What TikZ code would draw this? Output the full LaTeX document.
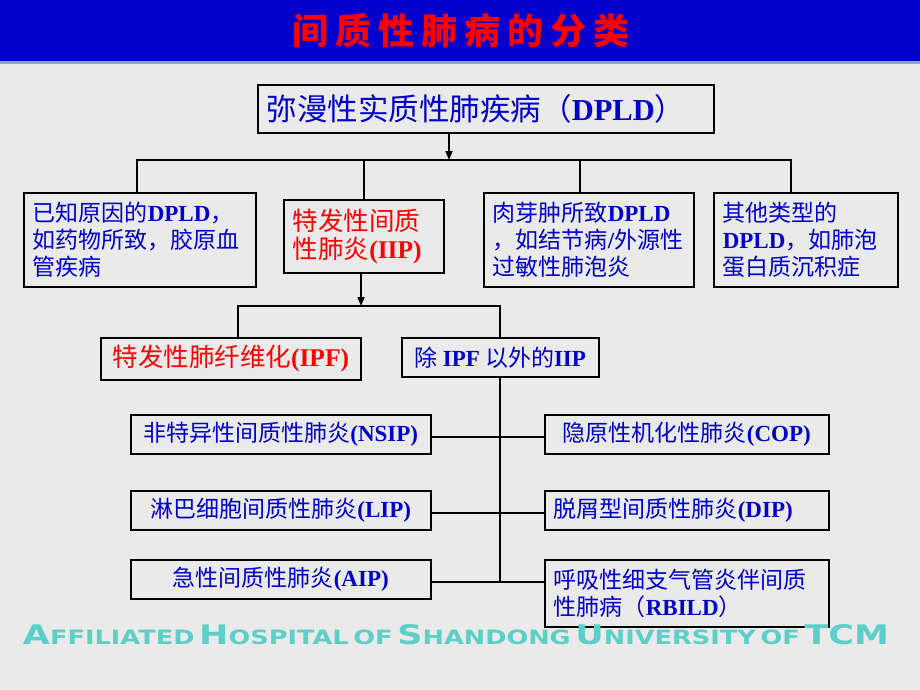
\documentclass[tikz,border=0pt]{standalone}
\usepackage{fontspec}
\setmainfont{Noto Sans CJK SC}
\newfontfamily\tnr{Liberation Serif}
\newfontfamily\footfont{DejaVu Sans}
\usepackage{tikz}
\usetikzlibrary{positioning, arrows.meta}

\definecolor{bgpaper}{RGB}{234,234,234}
\definecolor{titleblue}{RGB}{0,0,204}
\definecolor{rulegray}{RGB}{150,168,178}
\definecolor{txtblue}{RGB}{0,0,204}
\definecolor{txtred}{RGB}{255,0,0}
\definecolor{footcyan}{RGB}{92,208,200}

\newcommand{\en}[1]{{\tnr\bfseries #1}}
\newcommand{\capword}[2]{{\fontsize{26}{26}\selectfont #1}{\fontsize{19}{19}\selectfont #2}}
\newcommand{\footline}{\footfont\bfseries
  \capword{A}{FFILIATED} \capword{H}{OSPITAL} \capword{}{OF} \capword{S}{HANDONG}
  \capword{U}{NIVERSITY} \capword{}{OF} \capword{TCM}{}}

\tikzset{
  box/.style={draw=black, line width=1.6pt, inner xsep=9pt, inner ysep=0pt, anchor=north west},
  bluebox/.style={box, text=txtblue, font=\fontsize{23}{27}\selectfont},
  redbox/.style={box, text=txtred, font=\fontsize{25.5}{28}\selectfont},
  link/.style={line width=2pt},
  arr/.style={line width=1.4pt, -{Triangle[length=9pt,width=7pt]}}
}

\begin{document}
\begin{tikzpicture}[x=1pt, y=-1pt]
\useasboundingbox (0,0) rectangle (920,690);
\fill[bgpaper] (0,0) rectangle (920,690);
\fill[titleblue] (0,0) rectangle (920,61);
\fill[rulegray] (0,61) rectangle (920,64);

\node[text=txtred, font=\fontsize{36}{40}\selectfont\bfseries] (title) at (461,31)
  {间\hspace{7pt}质\hspace{7pt}性\hspace{7pt}肺\hspace{7pt}病\hspace{7pt}的\hspace{7pt}分\hspace{7pt}类};

% top level
\node[box, text=txtblue, font=\fontsize{30.5}{34}\selectfont, text width=438pt, minimum height=48pt, align=left] (dpld) at (257,84)
  {弥漫性实质性肺疾病（\en{DPLD}）};

% second row
\node[bluebox, text width=214pt, minimum height=94pt, align=left] (known) at (23,192)
  {已知原因的\en{DPLD}，\\如药物所致，胶原血\\管疾病};
\node[redbox, text width=142pt, minimum height=73pt, align=left] (iip) at (283,199)
  {特发性间质\\性肺炎\en{(IIP)}};
\node[bluebox, text width=192pt, minimum height=94pt, align=left] (granu) at (483,192)
  {肉芽肿所致\en{DPLD}\\，如结节病\en{/}外源性\\过敏性肺泡炎};
\node[bluebox, text width=166pt, minimum height=94pt, align=left] (other) at (713,192)
  {其他类型的\\\en{DPLD}，如肺泡\\蛋白质沉积症};

% IIP split
\node[redbox, minimum width=260pt, minimum height=42pt] (ipf) at (100,337)
  {特发性肺纤维化\en{(IPF)}};
\node[bluebox, minimum width=197pt, minimum height=39pt] (nonipf) at (401,337)
  {除 \en{IPF} 以外的\en{IIP}};

% other IIP
\node[bluebox, minimum width=300pt, minimum height=39pt] (nsip) at (130,414) {非特异性间质性肺炎\en{(NSIP)}};
\node[bluebox, minimum width=284pt, minimum height=39pt] (cop) at (544,414) {隐原性机化性肺炎\en{(COP)}};
\node[bluebox, minimum width=300pt, minimum height=39pt] (lip) at (130,490) {淋巴细胞间质性肺炎\en{(LIP)}};
\node[bluebox, text width=266pt, minimum height=39pt, align=left] (dip) at (544,490) {脱屑型间质性肺炎\en{(DIP)}};
\node[bluebox, minimum width=300pt, minimum height=39pt] (aip) at (130,559) {急性间质性肺炎\en{(AIP)}};
\node[bluebox, text width=266pt, minimum height=67pt, align=left] (rbild) at (544,559)
  {呼吸性细支气管炎伴间质\\性肺病（\en{RBILD}）};

% connectors
\coordinate (fork1) at (449,160);
\draw[arr] (fork1 |- dpld.south) -- (fork1);
\draw[link] ([xshift=-3pt]known.north) |- (fork1) -| ([xshift=-15pt]other.north);
\draw[link] (fork1 -| iip.north) -- (iip.north);
\draw[link] ([xshift=-9pt]granu.north) -- ([xshift=-9pt]granu.north |- fork1);

\coordinate (fork2) at (361,306);
\draw[arr] (fork2 |- iip.south) -- (fork2);
\draw[link] ([xshift=7pt]ipf.north) |- (fork2) -| (nonipf.north);

\draw[link] (nonipf.south) -- (nonipf.south |- aip.east) -- ++(0,3);
\draw[link] ([yshift=-3pt]nsip.east) -- ([yshift=-3pt]nsip.east -| cop.west);
\draw[link] ([yshift=-3pt]lip.east) -- ([yshift=-3pt]lip.east -| dip.west);
\draw[link] ([yshift=-3pt]aip.east) -- ([yshift=-3pt]aip.east -| rbild.west);

% footer
\node[text=footcyan] (foot) at (456,635) {\resizebox{866pt}{20pt}{\footline}};
\end{tikzpicture}
\end{document}
